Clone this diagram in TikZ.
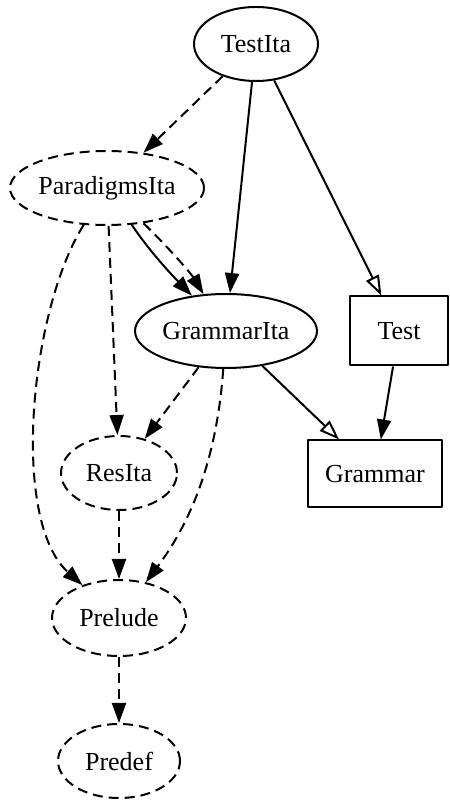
\documentclass[tikz,border=0pt]{standalone}
\usepackage{fontspec}
\setmainfont{Liberation Serif}
\usetikzlibrary{arrows.meta,shapes.geometric}
\begin{document}
\begin{tikzpicture}[>={Triangle[length=20bp,width=14bp]},line join=bevel,line width=2bp,
    font=\fontsize{26bp}{30bp}\selectfont,
    dashline/.style={dash pattern=on 10bp off 6bp},
    mod/.style={draw,ellipse,inner sep=0pt},
    resmod/.style={mod,dashline},
    absmod/.style={draw,rectangle,inner sep=0pt},
    uses/.style={->,dashline},
    ext/.style={->},
    inst/.style={-{Triangle[open,length=20bp,width=14bp]}},
  ]
    \useasboundingbox (0bp,0bp) rectangle (450bp,800bp);
    %%
    \node (TestIta) at (256.0bp,756.0bp) [mod,minimum width=124bp,minimum height=74bp] {TestIta};
    \node (ParadigmsIta) at (107.0bp,612.0bp) [resmod,minimum width=190bp,minimum height=74bp] {ParadigmsIta};
    \node (GrammarIta) at (226.0bp,469.0bp) [mod,minimum width=182bp,minimum height=74bp] {GrammarIta};
    \node (Test) at (399.0bp,469.0bp) [absmod,minimum width=98bp,minimum height=69bp] {Test};
    \node (Grammar) at (375.0bp,326.0bp) [absmod,minimum width=134bp,minimum height=67bp] {Grammar};
    \node (ResIta) at (119.0bp,327.0bp) [resmod,minimum width=116bp,minimum height=74bp] {ResIta};
    \node (Prelude) at (119.0bp,182.0bp) [resmod,minimum width=134bp,minimum height=76bp] {Prelude};
    \node (Predef) at (119.0bp,39.0bp) [resmod,minimum width=122bp,minimum height=74bp] {Predef};
    \draw [uses] (TestIta) -- (ParadigmsIta);
    \draw [ext] (TestIta) -- (GrammarIta);
    \draw [inst] (TestIta) -- (Test);
    \draw [ext] (ParadigmsIta) ..controls (148.0bp,551.0bp) and (168.0bp,529.0bp)  .. (GrammarIta);
    \draw [uses] (ParadigmsIta) ..controls (165.0bp,556.0bp) and (190.0bp,528.0bp)  .. (GrammarIta);
    \draw [uses] (ParadigmsIta) -- (ResIta);
    \draw [uses] (ParadigmsIta) ..controls (30.0bp,490.0bp) and (10.0bp,280.0bp)  .. (Prelude);
    \draw [uses] (GrammarIta) -- (ResIta);
    \draw [uses] (GrammarIta) ..controls (216.0bp,330.0bp) and (185.0bp,270.0bp)  .. (Prelude);
    \draw [inst] (GrammarIta) -- (Grammar);
    \draw [ext] (Test) -- (Grammar);
    \draw [uses] (ResIta) -- (Prelude);
    \draw [uses] (Prelude) -- (Predef);
    %
\end{tikzpicture}
\end{document}
